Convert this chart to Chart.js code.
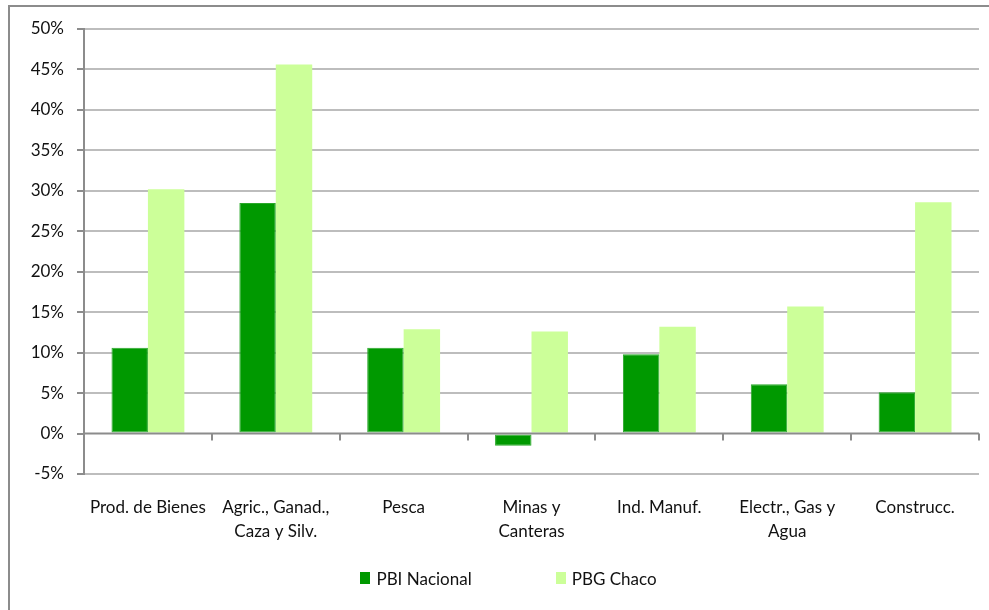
<!DOCTYPE html>
<html>
<head>
<meta charset="utf-8">
<script src="https://cdn.jsdelivr.net/npm/chart.js@4.4.1/dist/chart.umd.min.js"></script>
<style>
  html, body { margin: 0; padding: 0; background: #fff; overflow: hidden; }
  #wrap { position: relative; width: 989px; height: 610px; }
  #marco { position: absolute; left: 8px; top: 5px; width: 1100px; height: 700px; border: 2px solid #8c8c8c; }
  #grafico { position: absolute; left: 0; top: 0; }
  #leyenda { position: absolute; left: 38px; width: 941px; top: 566px; display: flex; justify-content: center; gap: 84px;
    font-family: Lato, "Liberation Sans", sans-serif; font-size: 17px; color: #111; }
  #leyenda span.item { display: flex; align-items: center; height: 24px; }
  #leyenda span.caja { display: inline-block; width: 10px; height: 12px; margin-right: 6px; }
</style>
</head>
<body>
<div id="wrap">
  <div id="marco"></div>
  <canvas id="grafico" width="989" height="610"></canvas>
  <div id="leyenda"></div>
</div>
<script>
const sectores = [
    'Prod. de Bienes',
    ['Agric., Ganad.,', 'Caza y Silv.'],
    'Pesca',
    ['Minas y', 'Canteras'],
    'Ind. Manuf.',
    ['Electr., Gas y', 'Agua'],
    'Construcc.'
];
const pbiNacional = [10.6, 28.5, 10.6, -1.5, 9.8, 6.1, 5.1];
const pbgChaco = [30.2, 45.6, 12.9, 12.6, 13.2, 15.7, 28.6];
const ejeMin = -5;
const ejeMax = 50;
const ejePaso = 5;

const fuente = "Lato, 'Liberation Sans', sans-serif";
const grisEje = '#8c8c8c';

// eje horizontal en el 0 con sus marcas entre categorias
const ejeCero = {
    id: 'ejeCero',
    afterDatasetsDraw(chart) {
        const ctx = chart.ctx;
        const x = chart.scales.x;
        const y0 = chart.scales.y.getPixelForValue(0);
        ctx.save();
        ctx.strokeStyle = grisEje;
        ctx.lineWidth = 2;
        ctx.beginPath();
        ctx.moveTo(x.left, y0);
        ctx.lineTo(x.right, y0);
        for (let i = 0; i <= sectores.length; i++) {
            const px = Math.round(x.getPixelForValue(i - 0.5));
            ctx.moveTo(px, y0);
            ctx.lineTo(px, y0 + 7);
        }
        ctx.stroke();
        ctx.restore();
    }
};

const grafico = new Chart(document.getElementById('grafico').getContext('2d'), {
    type: 'bar',
    data: {
        labels: sectores,
        datasets: [
            {
                label: 'PBI Nacional',
                data: pbiNacional,
                backgroundColor: '#009900',
                borderColor: '#2aa82a',
                borderWidth: 1,
                borderSkipped: false,
                categoryPercentage: 0.57,
                barPercentage: 1
            },
            {
                label: 'PBG Chaco',
                data: pbgChaco,
                backgroundColor: '#ccff99',
                borderWidth: 0,
                categoryPercentage: 0.57,
                barPercentage: 1
            }
        ]
    },
    options: {
        responsive: false,
        animation: false,
        layout: { padding: { left: 0, top: 29, right: 10, bottom: 0 } },
        scales: {
            y: {
                min: ejeMin,
                max: ejeMax,
                afterFit: s => { s.width = 84; },
                ticks: {
                    stepSize: ejePaso,
                    padding: 13,
                    color: '#111',
                    font: { family: fuente, size: 17 },
                    callback: v => v + '%'
                },
                grid: {
                    color: c => c.tick.value === 0 ? 'rgba(0,0,0,0)' : '#bdbdbd',
                    lineWidth: 2,
                    tickColor: grisEje,
                    tickLength: 7,
                    tickWidth: 2
                },
                border: { color: grisEje, width: 2 }
            },
            x: {
                afterFit: s => { s.height = 136; },
                grid: { display: false },
                border: { display: false },
                ticks: {
                    padding: 14,
                    color: '#111',
                    maxRotation: 0,
                    autoSkip: false,
                    font: { family: fuente, size: 17, lineHeight: 1.38 }
                }
            }
        },
        plugins: {
            legend: { display: false },
            tooltip: { enabled: true }
        }
    },
    plugins: [ejeCero]
});

// leyenda en html con los items del grafico
const leyenda = document.getElementById('leyenda');
grafico.data.datasets.forEach(ds => {
    const item = document.createElement('span');
    item.className = 'item';
    const caja = document.createElement('span');
    caja.className = 'caja';
    caja.style.background = ds.backgroundColor;
    item.appendChild(caja);
    item.appendChild(document.createTextNode(ds.label));
    leyenda.appendChild(item);
});
</script>
</body>
</html>
